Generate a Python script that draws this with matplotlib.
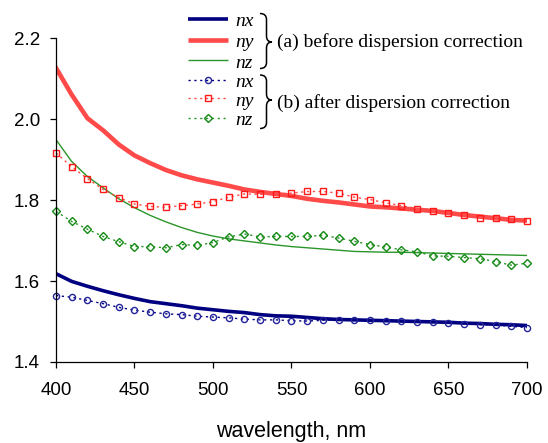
import matplotlib.pyplot as plt
from matplotlib.path import Path
from matplotlib.patches import PathPatch
from matplotlib.lines import Line2D

plt.rcParams['font.family'] = ['Liberation Sans', 'DejaVu Sans']

W, H = 548, 443

wavelength = list(range(400, 701, 10))

# (a) before dispersion correction
nx_before = [1.618, 1.599, 1.587, 1.576, 1.566, 1.557, 1.549, 1.544, 1.539, 1.533,
             1.529, 1.525, 1.522, 1.517, 1.514, 1.513, 1.510, 1.507, 1.505, 1.504,
             1.503, 1.502, 1.501, 1.500, 1.499, 1.498, 1.496, 1.495, 1.493, 1.492, 1.490]
ny_before = [2.126, 2.060, 2.002, 1.972, 1.937, 1.910, 1.891, 1.874, 1.861, 1.851,
             1.843, 1.835, 1.826, 1.820, 1.815, 1.810, 1.803, 1.798, 1.794, 1.789,
             1.784, 1.782, 1.779, 1.776, 1.773, 1.768, 1.763, 1.759, 1.755, 1.751, 1.749]
nz_before = [1.949, 1.895, 1.858, 1.830, 1.803, 1.781, 1.762, 1.746, 1.732, 1.720,
             1.711, 1.704, 1.699, 1.694, 1.689, 1.685, 1.682, 1.679, 1.676, 1.673,
             1.672, 1.671, 1.671, 1.670, 1.669, 1.668, 1.667, 1.666, 1.665, 1.664, 1.663]

# (b) after dispersion correction
nx_after = [1.564, 1.560, 1.552, 1.544, 1.535, 1.528, 1.523, 1.519, 1.517, 1.513,
            1.511, 1.509, 1.506, 1.504, 1.504, 1.502, 1.501, 1.503, 1.504, 1.504,
            1.503, 1.501, 1.501, 1.500, 1.500, 1.497, 1.495, 1.492, 1.492, 1.488, 1.485]
ny_after = [1.916, 1.882, 1.853, 1.826, 1.806, 1.790, 1.784, 1.782, 1.786, 1.790,
            1.796, 1.807, 1.815, 1.814, 1.815, 1.817, 1.821, 1.821, 1.817, 1.807,
            1.801, 1.793, 1.786, 1.779, 1.774, 1.769, 1.764, 1.756, 1.755, 1.753, 1.748]
nz_after = [1.772, 1.747, 1.728, 1.710, 1.697, 1.685, 1.685, 1.682, 1.690, 1.688,
            1.695, 1.709, 1.716, 1.709, 1.710, 1.710, 1.710, 1.713, 1.706, 1.698,
            1.690, 1.684, 1.677, 1.672, 1.662, 1.661, 1.658, 1.655, 1.648, 1.639, 1.644]

x_ticks = [400, 450, 500, 550, 600, 650, 700]
y_ticks = [1.4, 1.6, 1.8, 2.0, 2.2]

BLUE = '#000080'
BLUE_M = '#23239a'
RED = '#ff4a4a'
RED_M = '#ff1a1a'
GREEN = '#2a962a'
GREEN_M = '#138a13'
DOTS = (0, (1.6, 2.6))

solid_styles = [
    dict(color=BLUE, lw=2.6),
    dict(color=RED, lw=3.3),
    dict(color=GREEN, lw=1.0),
]
dotted_styles = [
    dict(color=BLUE, lw=1.0, ls=DOTS, marker='o', ms=4.4, mfc='none', mec=BLUE_M, mew=1.0),
    dict(color=RED, lw=1.0, ls=DOTS, marker='s', ms=4.8, mfc='none', mec=RED_M, mew=1.0),
    dict(color=GREEN, lw=1.0, ls=DOTS, marker='D', ms=3.7, mfc='none', mec=GREEN_M, mew=1.0),
]


def fpx(x, y):
    # pixel position (from top-left) -> figure fraction
    return x / W, 1 - y / H


fig = plt.figure(figsize=(W / 100, H / 100), dpi=100)
ax = fig.add_axes([56 / W, 1 - 362 / H, (527 - 56) / W, (362 - 38) / H])

for ys, st in zip([nx_before, ny_before, nz_before], solid_styles):
    ax.plot(wavelength, ys, solid_joinstyle='round', **st)
for ys, st in zip([nx_after, ny_after, nz_after], dotted_styles):
    ax.plot(wavelength, ys, clip_on=False, **st)

ax.set_xlim(400, 700)
ax.set_ylim(1.4, 2.2)
ax.set_xticks(x_ticks)
ax.set_yticks(y_ticks)
ax.set_yticklabels([f'{v:.1f}' for v in y_ticks])
for s in ['top', 'right']:
    ax.spines[s].set_visible(False)
for s in ['left', 'bottom']:
    ax.spines[s].set_linewidth(0.9)
ax.tick_params(direction='out', length=4.5, width=0.9, labelsize=13.5)
ax.tick_params(axis='y', pad=7)
ax.tick_params(axis='x', pad=10)

fig.text(*fpx(291, 437), 'wavelength, nm', ha='center', va='baseline', fontsize=15.5)

# legend, drawn by hand like the original
labels = ['nx', 'ny', 'nz', 'nx', 'ny', 'nz']
row_y = [19, 39.5, 60, 79.5, 98, 117.5]
for i, (lab, yl) in enumerate(zip(labels, row_y)):
    x0, y0 = fpx(188, yl)
    x1, _ = fpx(228, yl)
    xm = (x0 + x1) / 2
    if i < 3:
        fig.add_artist(Line2D([x0, x1], [y0, y0], transform=fig.transFigure,
                              solid_capstyle='butt', **solid_styles[i]))
    else:
        fig.add_artist(Line2D([x0, xm, x1], [y0, y0, y0], transform=fig.transFigure,
                              markevery=[1], **dotted_styles[i - 3]))
    fig.text(*fpx(235, yl + 7.5), lab, fontsize=14, style='italic',
             family='Liberation Serif', va='baseline')


def brace(xl, xv, xt, ytop, ymid, ybot, r=6):
    pts = [(xl, ytop), (xv, ytop), (xv, ytop + r),
           (xv, ymid - r), (xv, ymid), (xt, ymid),
           (xv, ymid), (xv, ymid + r),
           (xv, ybot - r), (xv, ybot), (xl, ybot)]
    codes = [Path.MOVETO, Path.CURVE3, Path.CURVE3,
             Path.LINETO, Path.CURVE3, Path.CURVE3,
             Path.CURVE3, Path.CURVE3,
             Path.LINETO, Path.CURVE3, Path.CURVE3]
    path = Path([fpx(*p) for p in pts], codes)
    fig.add_artist(PathPatch(path, transform=fig.transFigure, fill=False,
                             lw=1.1, edgecolor='black'))


brace(260, 266.5, 272, 13.5, 42, 68.5)
brace(260, 266.5, 272, 75, 100, 128.5)

fig.text(*fpx(277, 47), '(a) before dispersion correction', fontsize=14,
         family='Liberation Serif', va='baseline')
fig.text(*fpx(277, 107.5), '(b) after dispersion correction', fontsize=14,
         family='Liberation Serif', va='baseline')

fig.savefig('out.png', dpi=100)
